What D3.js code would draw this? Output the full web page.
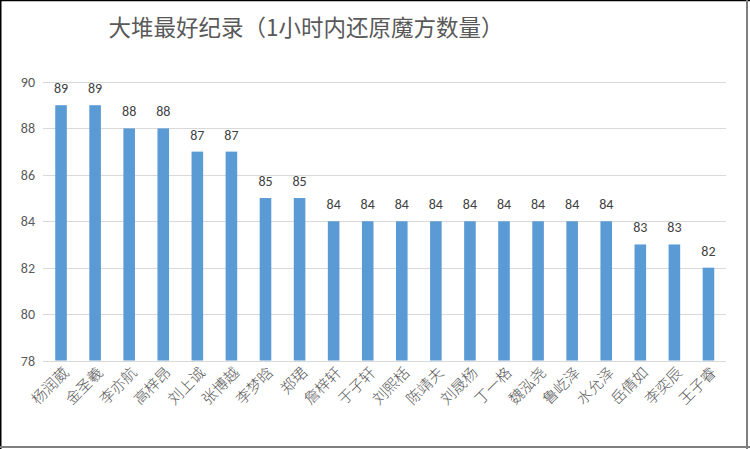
<!DOCTYPE html>
<html>
<head>
<meta charset="utf-8">
<script src="https://cdn.jsdelivr.net/npm/d3@7"></script>
<style>
  html, body { margin: 0; padding: 0; background: #fff; }
  svg { display: block; }
</style>
</head>
<body>
<svg id="chart"></svg>
<script>
// 数据
var names = ['杨润葳', '金圣羲', '李亦航', '高梓昂', '刘上诚', '张博越', '李梦晗', '郑珺', '詹梓轩', '于子轩',
             '刘熙栝', '陈靖夫', '刘晟杨', '丁一格', '魏泓尧', '鲁屹泽', '水允泽', '岳倩如', '李奕辰', '王子睿'];
var scores = [89, 89, 88, 88, 87, 87, 85, 85, 84, 84, 84, 84, 84, 84, 84, 84, 84, 83, 83, 82];
var yTicks = [78, 80, 82, 84, 86, 88, 90];
var title = '大堆最好纪录（1小时内还原魔方数量）';

var W = 750, H = 449;
var svg = d3.select('#chart').attr('width', W).attr('height', H);

// 比例尺
var x = d3.scaleBand()
    .domain(names)
    .range([44, 725.5])
    .paddingInner(0.66)
    .paddingOuter(0.33);

var y = d3.scaleLinear()
    .domain([78, 90])
    .range([360.5, 82]);

// 网格线
svg.append('g')
    .selectAll('line')
    .data(yTicks)
    .enter()
    .append('line')
    .attr('x1', 43)
    .attr('x2', 726)
    .attr('y1', function (d) { return Math.round(y(d)) + 0.5; })
    .attr('y2', function (d) { return Math.round(y(d)) + 0.5; })
    .attr('stroke', '#d9d9d9')
    .attr('stroke-width', 1);

// y 轴标签
svg.append('g')
    .selectAll('text')
    .data(yTicks)
    .enter()
    .append('text')
    .attr('x', 35)
    .attr('y', function (d) { return y(d) + 5; })
    .attr('text-anchor', 'end')
    .attr('font-family', 'Calibri, Carlito, "Liberation Sans", sans-serif')
    .attr('font-size', 14)
    .attr('fill', '#595959')
    .text(function (d) { return d; });

// 柱子
svg.append('g')
    .selectAll('rect')
    .data(scores)
    .enter()
    .append('rect')
    .attr('x', function (d, i) { return x(names[i]); })
    .attr('width', x.bandwidth())
    .attr('y', function (d) { return y(d); })
    .attr('height', function (d) { return y(78) - y(d); })
    .attr('fill', '#5b9bd5');

// 数值标签
svg.append('g')
    .selectAll('text')
    .data(scores)
    .enter()
    .append('text')
    .attr('x', function (d, i) { return x(names[i]) + x.bandwidth() / 2; })
    .attr('y', function (d) { return y(d) - 12; })
    .attr('text-anchor', 'middle')
    .attr('font-family', 'Calibri, Carlito, "Liberation Sans", sans-serif')
    .attr('font-size', 14)
    .attr('fill', '#404040')
    .text(function (d) { return d; });

// 类别标签（旋转 -45 度）
svg.append('g')
    .selectAll('text')
    .data(names)
    .enter()
    .append('text')
    .attr('transform', function (d) {
        var cx = x(d) + x.bandwidth() / 2 + 5;
        return 'translate(' + cx + ',370) rotate(-45)';
    })
    .attr('text-anchor', 'end')
    .attr('dy', '0.35em')
    .attr('font-family', '"Noto Sans CJK SC", sans-serif')
    .attr('font-size', 15)
    .attr('font-weight', 300)
    .attr('fill', '#595959')
    .text(function (d) { return d; });

// 标题
svg.append('text')
    .attr('x', 306)
    .attr('y', 36)
    .attr('text-anchor', 'middle')
    .attr('font-family', '"Noto Sans CJK SC", sans-serif')
    .attr('font-size', 22.5)
    .attr('fill', '#595959')
    .text(title);

// 外框
svg.append('line').attr('x1', 0).attr('x2', W).attr('y1', 0.5).attr('y2', 0.5)
    .attr('stroke', '#000').attr('stroke-width', 1.5);
svg.append('line').attr('x1', 0.75).attr('x2', 0.75).attr('y1', 0).attr('y2', H)
    .attr('stroke', '#000').attr('stroke-width', 1.5);
svg.append('line').attr('x1', 747).attr('x2', 747).attr('y1', 0).attr('y2', H)
    .attr('stroke', '#7f7f7f').attr('stroke-width', 2);
svg.append('line').attr('x1', 0).attr('x2', W).attr('y1', 447).attr('y2', 447)
    .attr('stroke', '#7f7f7f').attr('stroke-width', 2);
</script>
</body>
</html>
